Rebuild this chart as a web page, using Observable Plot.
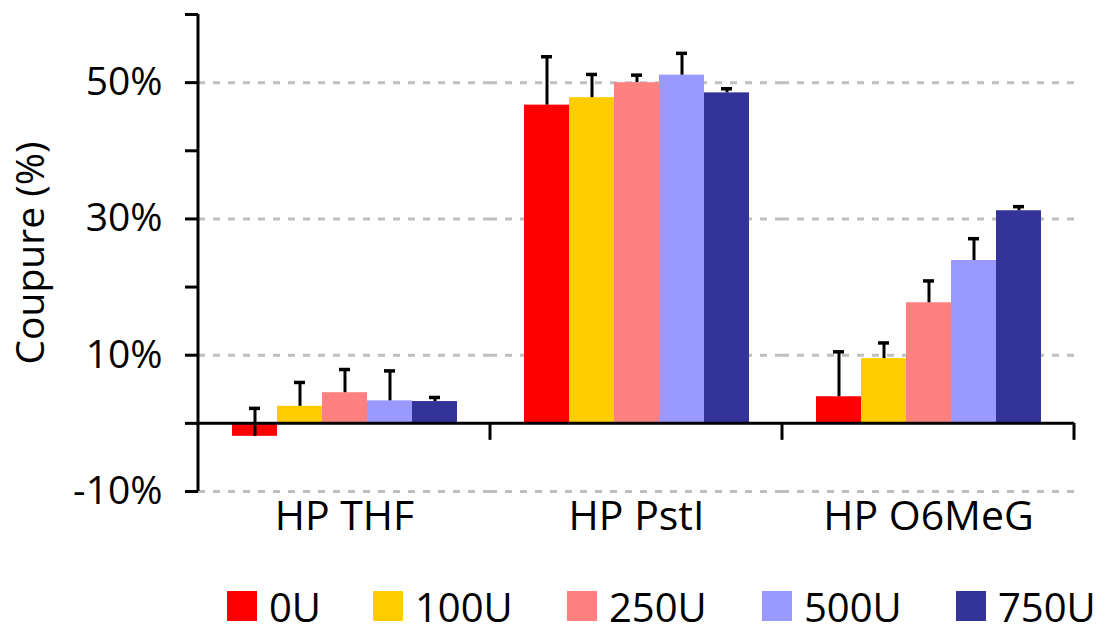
<!DOCTYPE html>
<html>
<head>
<meta charset="utf-8">
<script src="https://cdn.jsdelivr.net/npm/d3@7"></script>
<script src="https://cdn.jsdelivr.net/npm/@observablehq/plot@0.6"></script>
<style>
  html, body { margin: 0; padding: 0; background: #fff; overflow: hidden; }
  body { font-family: "Open Sans", sans-serif; width: 1104px; height: 634px; }
  #chart svg { display: block; }
  #legend { position: relative; height: 54px; font-size: 40px; color: #000; }
  .item { position: absolute; top: 11px; height: 30px; display: flex; align-items: center; }
  .sw { width: 30px; height: 30px; margin-right: 12px; flex: none; }
  .lbl { line-height: normal; white-space: nowrap; }
</style>
</head>
<body>
<div id="chart"></div>
<div id="legend"></div>
<script>
// ---- data ----
const categories = ["HP THF", "HP PstI", "HP O6MeG"];
const series = ["0U", "100U", "250U", "500U", "750U"];
const colors = ["#FF0000", "#FFCC00", "#FF8080", "#9999FF", "#333399"];

const values0U   = [-1.9, 46.7, 3.9];
const values100U = [2.5, 47.8, 9.5];
const values250U = [4.5, 50.0, 17.7];
const values500U = [3.3, 51.1, 23.9];
const values750U = [3.2, 48.5, 31.2];

const errors0U   = [4.1, 7.1, 6.6];
const errors100U = [3.5, 3.4, 2.3];
const errors250U = [3.4, 1.1, 3.2];
const errors500U = [4.4, 3.2, 3.2];
const errors750U = [0.6, 0.6, 0.6];

const yTicks = [-10, 0, 10, 20, 30, 40, 50, 60];
const yLabelled = [-10, 10, 30, 50];
const yLabel = "Coupure (%)";

// ---- table built from the arrays ----
const valueArrays = [values0U, values100U, values250U, values500U, values750U];
const errorArrays = [errors0U, errors100U, errors250U, errors500U, errors750U];
const rows = [];
categories.forEach((c, ci) => {
  series.forEach((s, si) => {
    rows.push({category: c, series: s, value: valueArrays[si][ci], error: errorArrays[si][ci]});
  });
});

// axis decorations: category tick marks (per facet) and y-axis line (first facet)
let decorCall = 0;
function decor(index, scales, values, dims) {
  const y = scales.y;
  const y0 = y(0);
  const xr = dims.width - dims.marginRight;
  const xl = dims.marginLeft;
  const g = d3.create("svg:g").attr("stroke", "black").attr("stroke-width", 3);
  g.append("line").attr("x1", xr).attr("x2", xr).attr("y1", y0).attr("y2", y0 + 17);
  if (decorCall++ === 0) {
    g.append("line").attr("x1", xl).attr("x2", xl)
      .attr("y1", y(d3.max(yTicks))).attr("y2", y(d3.min(yTicks)));
  }
  return g.node();
}

const chart = Plot.plot({
  width: 1104,
  height: 580,
  marginLeft: 197,
  marginRight: 29,
  marginTop: 14,
  marginBottom: 89,
  style: {fontFamily: "'Open Sans', sans-serif", color: "black", background: "white"},
  fx: {domain: categories, padding: 0, label: null},
  x: {domain: series, paddingInner: 0, paddingOuter: 0.73, axis: null},
  y: {domain: [-10, 60]},
  color: {domain: series, range: colors},
  marks: [
    Plot.ruleY(yLabelled, {stroke: "#bfbfbf", strokeWidth: 3, strokeDasharray: "7,8"}),
    Plot.barY(rows, {fx: "category", x: "series", y1: 0, y2: "value", fill: "series"}),
    Plot.ruleX(rows, {fx: "category", x: "series", y1: "value", y2: d => d.value + d.error,
                      stroke: "black", strokeWidth: 3}),
    Plot.tickY(rows, {fx: "category", x: "series", y: d => d.value + d.error,
                      stroke: "black", strokeWidth: 3.5, insetLeft: 17, insetRight: 17}),
    Plot.ruleY([0], {stroke: "black", strokeWidth: 3}),
    decor,
    Plot.axisY({ticks: yTicks, tickSize: 13, tickPadding: 23, strokeWidth: 3,
                tickFormat: d => yLabelled.includes(d) ? d + "%" : "",
                fontSize: 39, label: yLabel, labelAnchor: "center", labelOffset: 182,
                labelArrow: "none"}),
    Plot.axisFx({anchor: "bottom", tickSize: 0, tickPadding: 9, fontSize: 41, label: null})
  ]
});
document.getElementById("chart").appendChild(chart);

// legend (swatch positions as in the reference)
const legendLeft = [227, 373, 567, 762, 956];
const legend = document.getElementById("legend");
series.forEach((s, i) => {
  const item = document.createElement("div");
  item.className = "item";
  item.style.left = legendLeft[i] + "px";
  const sw = document.createElement("div");
  sw.className = "sw";
  sw.style.background = colors[i];
  const lbl = document.createElement("span");
  lbl.className = "lbl";
  lbl.textContent = s;
  item.appendChild(sw);
  item.appendChild(lbl);
  legend.appendChild(item);
});
</script>
</body>
</html>
